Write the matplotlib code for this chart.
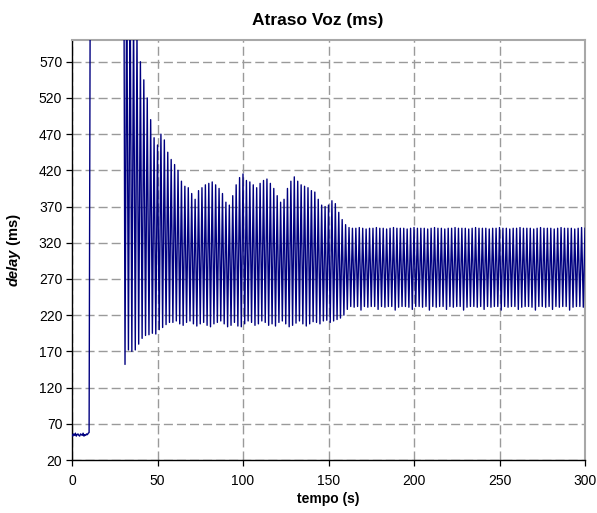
import matplotlib
matplotlib.use("Agg")
import matplotlib.pyplot as plt
import numpy as np

plt.rcParams['font.family'] = ['Liberation Sans', 'DejaVu Sans']

# ---- data ----
# start-up phase, 0 .. 10 s every 0.5 s
startup_t = np.arange(0, 10.5, 0.5)
startup_delay = [55, 53, 56, 54, 57, 53, 55, 56, 54, 53, 56, 55, 54, 57, 53,
                 55, 54, 56, 55, 57, 58]

# 11 .. 29 s : far above the visible range
gap_t = np.arange(11, 30, 1)
gap_delay = [1000, 1150, 1300, 1400, 1500, 1550, 1600, 1580, 1550, 1500,
             1450, 1400, 1350, 1300, 1250, 1200, 1150, 1100, 1050]

# oscillation peaks (even seconds 30..300)
peak_t = np.arange(30, 301, 2)
peak_delay = [1000, 700, 680, 640, 610, 570, 545, 520, 490, 465,
              455, 470, 462, 445, 435, 428, 420, 405, 398, 396,
              388, 380, 392, 396, 400, 402, 404, 400, 395, 388,
              376, 372, 385, 400, 410, 415, 406, 404, 400, 396,
              402, 406, 408, 402, 395, 385, 376, 380, 395, 405,
              411, 405, 400, 398, 396, 392, 390, 380, 372, 370,
              372, 378, 374, 362, 352, 345, 341, 340, 340, 341,
              340, 339, 340, 340, 341, 340, 340, 339, 340, 341,
              340, 340, 340, 339, 340, 341, 340, 340, 340, 339,
              340, 341, 340, 340, 339, 340, 340, 341, 340, 340,
              340, 339, 340, 341, 340, 340, 340, 339, 340, 340,
              341, 340, 340, 339, 340, 340, 341, 340, 340, 340,
              339, 340, 341, 340, 340, 340, 339, 340, 341, 340,
              340, 340, 339, 340, 341, 340]

# oscillation troughs (odd seconds 31..299)
trough_t = np.arange(31, 300, 2)
trough_delay = [152, 172, 170, 172, 180, 188, 192, 193, 195, 194,
                200, 203, 207, 210, 210, 212, 208, 206, 210, 212,
                208, 205, 208, 210, 206, 204, 208, 210, 212, 208,
                204, 206, 210, 205, 204, 208, 212, 210, 206, 208,
                212, 210, 206, 208, 205, 210, 212, 208, 204, 206,
                209, 212, 208, 205, 208, 211, 210, 208, 212, 213,
                210, 212, 214, 216, 220, 228, 232, 231, 232, 227,
                232, 231, 232, 232, 228, 232, 231, 232, 232, 227,
                231, 232, 232, 231, 228, 232, 232, 231, 232, 227,
                232, 231, 232, 232, 228, 232, 231, 232, 232, 227,
                231, 232, 232, 231, 232, 228, 232, 231, 232, 232,
                227, 232, 231, 232, 232, 228, 231, 232, 232, 231,
                227, 232, 232, 231, 232, 228, 232, 231, 232, 232,
                227, 231, 232, 232, 231]

x_ticks = [0, 50, 100, 150, 200, 250, 300]
y_ticks = [20, 70, 120, 170, 220, 270, 320, 370, 420, 470, 520, 570]

# ---- assemble series ----
t = np.concatenate([startup_t, gap_t, peak_t, trough_t])
d = np.concatenate([startup_delay, gap_delay, peak_delay, trough_delay]).astype(float)
order = np.argsort(t, kind='stable')
t, d = t[order], d[order]

W, H = 597, 513
fig = plt.figure(figsize=(W / 100, H / 100), dpi=100)
L, R, T, B = 72, 585, 40, 460
ax = fig.add_axes([L / W, 1 - B / H, (R - L) / W, (B - T) / H])

ax.plot(t, d, color='#000080', lw=1.0, zorder=3)

ax.set_xlim(0, 300)
ax.set_ylim(20, 600)
ax.set_xticks(x_ticks)
ax.set_yticks(y_ticks)
ax.tick_params(axis='both', labelsize=10, direction='out', length=4,
               width=0.9, color='black', pad=3)
ax.tick_params(axis='x', pad=6)

ax.grid(True, color='#9a9a9a', lw=1.0, ls=(0, (6.5, 2.9)), zorder=1)

for s in ['left', 'bottom']:
    ax.spines[s].set_color('black')
    ax.spines[s].set_linewidth(1.0)
for s in ['top', 'right']:
    ax.spines[s].set_color('#a8a8a8')
    ax.spines[s].set_linewidth(1.5)

fig.text(318 / W, 1 - 20 / H, 'Atraso Voz (ms)', fontsize=12.5,
         fontweight='bold', ha='center', va='center')
ax.set_xlabel('tempo (s)', fontsize=10, fontweight='bold', labelpad=3)

# y label: "delay" bold italic, "(ms)" bold
r = fig.canvas.get_renderer()
t1 = fig.text(0, 0, 'delay', rotation=90, fontsize=10.5, fontweight='bold',
              fontstyle='italic', ha='center', va='bottom')
t2 = fig.text(0, 0, ' (ms)', rotation=90, fontsize=10.5, fontweight='bold',
              ha='center', va='bottom')
h1 = t1.get_window_extent(r).height
h2 = t2.get_window_extent(r).height
xc = 14 / W
yc_px = H - (T + B) / 2
y0 = yc_px - (h1 + h2) / 2
t1.set_position((xc, y0 / H))
t2.set_position((xc, (y0 + h1) / H))

fig.savefig('out.png', dpi=100)
